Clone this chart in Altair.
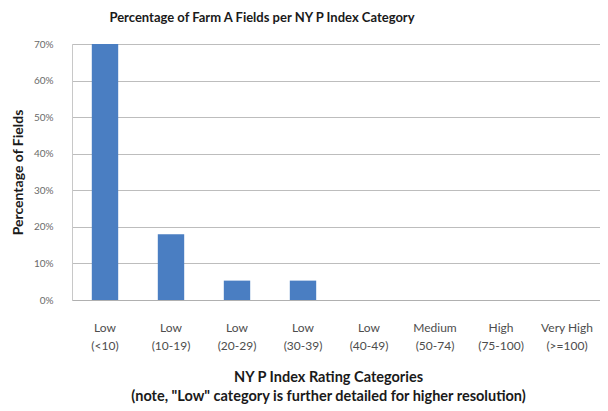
import altair as alt
import pandas as pd

categories = ["Low|(<10)", "Low|(10-19)", "Low|(20-29)", "Low|(30-39)",
              "Low|(40-49)", "Medium|(50-74)", "High|(75-100)", "Very High|(>=100)"]
values = [0.70, 0.18, 0.053, 0.053, 0.0, 0.0, 0.0, 0.0]

df = pd.DataFrame({"cat": categories, "val": values})

FONT = "Lato"

chart = alt.Chart(df).mark_bar(color="#4A7EC2").encode(
    x=alt.X("cat:N", sort=categories,
            scale=alt.Scale(paddingInner=0.6, paddingOuter=0.3),
            axis=alt.Axis(
                title=["NY P Index Rating Categories",
                       "(note, \"Low\" category is further detailed for higher resolution)"],
                titleFont=FONT, titleFontSize=14.5, titleFontWeight="bold", titleColor="#1a1a1a",
                titleX=256, titleAlign="center",
                titleY=70, titleBaseline="top", titleLineHeight=19,
                labelExpr="split(datum.label, '|')", labelAngle=0,
                labelFont=FONT, labelFontSize=12, labelColor="#4d4d4d",
                labelPadding=27, labelLineHeight=18, labelBaseline="middle",
                ticks=False, domainColor="#b0b0b0", grid=False)),
    y=alt.Y("val:Q", scale=alt.Scale(domain=[0, 0.7], nice=False),
            axis=alt.Axis(
                title="Percentage of Fields", format=".0%", values=[0, .1, .2, .3, .4, .5, .6, .7],
                titleFont=FONT, titleFontSize=14, titleFontWeight="bold", titleColor="#1a1a1a",
                titleX=-54, titleBaseline="middle",
                labelFont=FONT, labelFontSize=10, labelColor="#6a6a6a", labelPadding=19,
                ticks=False, domainColor="#c8c8c8",
                gridColor="#bdbdbd", gridWidth=1)),
).properties(
    width=528, height=256,
    title=alt.TitleParams("Percentage of Farm A Fields per NY P Index Category",
                          font=FONT, fontSize=13, fontWeight="bold", color="#1a1a1a",
                          anchor="middle", dx=-74, offset=14),
    autosize=alt.AutoSizeParams(type="none"),
    padding={"left": 64, "top": 36, "right": 0, "bottom": 110},
).configure_view(stroke=None).configure(background="white")

chart.save("out.html", embed_options={"renderer": "svg", "actions": False})
